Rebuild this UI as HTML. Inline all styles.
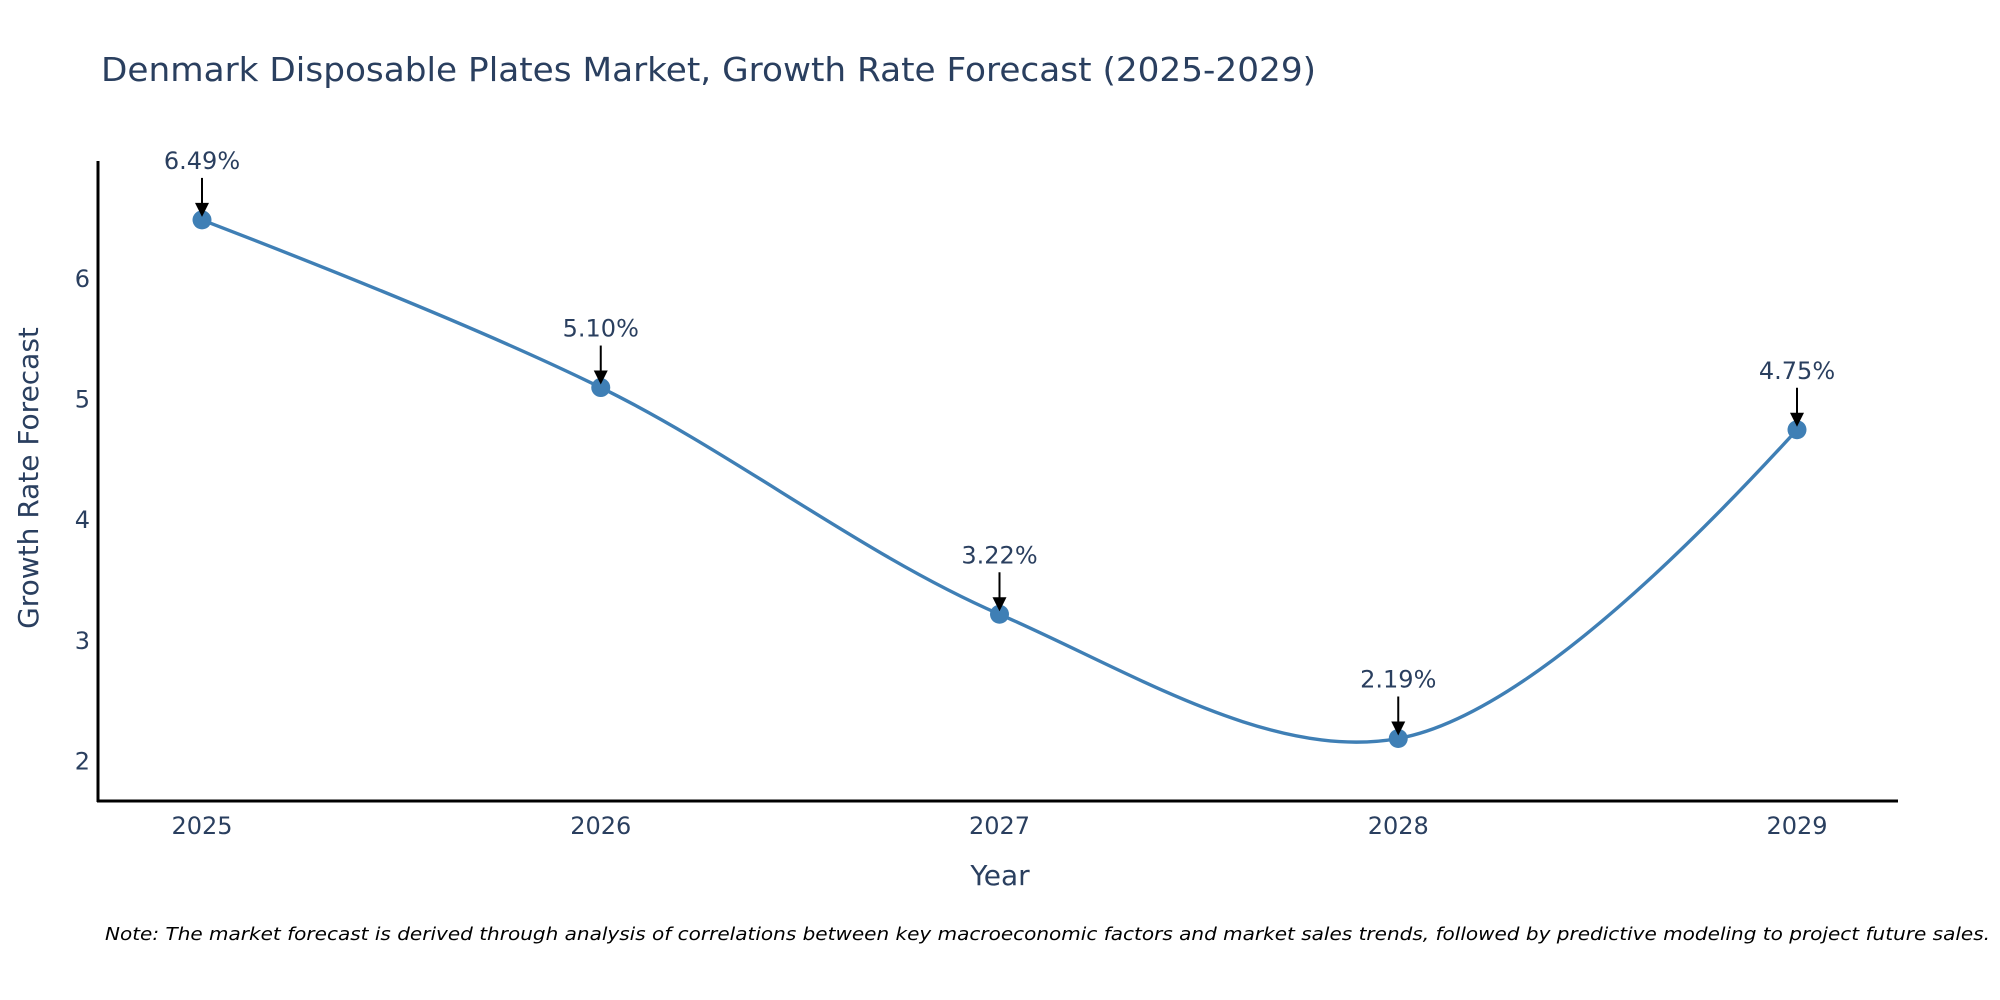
<!DOCTYPE html>
<html><head><meta charset="utf-8"><style>
html,body{margin:0;padding:0;background:#fff;}
svg{display:block;font-family:"DejaVu Sans","Liberation Sans",sans-serif;}
</style></head><body>
<svg id="chart" width="2000" height="1000" viewBox="0 0 2000 1000">
<text x="101" y="81" font-size="33" fill="#2a3f5f" textLength="1215" lengthAdjust="spacingAndGlyphs">Denmark Disposable Plates Market, Growth Rate Forecast (2025-2029)</text>
<g id="yticks"></g>
<g id="xticks"></g>
<line x1="98" y1="161" x2="98" y2="802" stroke="#000" stroke-width="3"/>
<line x1="97" y1="801" x2="1898" y2="801" stroke="#000" stroke-width="3"/>
<text transform="translate(38,478) rotate(-90)" text-anchor="middle" font-size="28" fill="#2a3f5f">Growth Rate Forecast</text>
<text x="1000" y="885" text-anchor="middle" font-size="28" fill="#2a3f5f">Year</text>
<g id="plot"></g>
<text x="105" y="940" font-size="18" font-style="italic" fill="#000" textLength="1885" lengthAdjust="spacingAndGlyphs">Note: The market forecast is derived through analysis of correlations between key macroeconomic factors and market sales trends, followed by predictive modeling to project future sales.</text>
</svg>
<script>
const categories = [2025, 2026, 2027, 2028, 2029];
const values = [6.49, 5.10, 3.22, 2.19, 4.75];
const labels = ["6.49%", "5.10%", "3.22%", "2.19%", "4.75%"];
const yTicks = [2, 3, 4, 5, 6];

const NS = "http://www.w3.org/2000/svg";
function xs(c){ return 202 + (c - 2025) * 398.75; }
function ys(v){ return 279 - (v - 6) * 120.6; }
function mk(tag, attrs, parent){ const e=document.createElementNS(NS,tag); for(const k in attrs) e.setAttribute(k,attrs[k]); parent.appendChild(e); return e; }

const yt=document.getElementById('yticks');
yTicks.forEach(t=>{
  const e=mk('text',{x:90,y:ys(t)+8,'text-anchor':'end','font-size':24,fill:'#2a3f5f'},yt);
  
  
  e.textContent=t;
});
const xt=document.getElementById('xticks');
categories.forEach(c=>{
  const e=mk('text',{x:xs(c),y:834,'text-anchor':'middle','font-size':24,fill:'#2a3f5f'},xt);
  
  
  e.textContent=c;
});

const pts=categories.map((c,i)=>[xs(c),ys(values[i])]);
function tangent(p,t,n,s){
  const d1x=p[0]-t[0],d1y=p[1]-t[1],d2x=n[0]-t[0],d2y=n[1]-t[1];
  const d1a=Math.pow(d1x*d1x+d1y*d1y,0.25),d2a=Math.pow(d2x*d2x+d2y*d2y,0.25);
  const nx=(d2a*d2a*d1x-d1a*d1a*d2x)*s,ny=(d2a*d2a*d1y-d1a*d1a*d2y)*s;
  const den1=3*d2a*(d1a+d2a),den2=3*d1a*(d1a+d2a);
  return [[t[0]+nx/den1,t[1]+ny/den1],[t[0]-nx/den2,t[1]-ny/den2]];
}
const tg=[];
for(let i=1;i<pts.length-1;i++) tg.push(tangent(pts[i-1],pts[i],pts[i+1],1));
let d='M'+pts[0]+' Q'+tg[0][0]+' '+pts[1];
for(let i=2;i<pts.length-1;i++) d+=' C'+tg[i-2][1]+' '+tg[i-1][0]+' '+pts[i];
d+=' Q'+tg[tg.length-1][1]+' '+pts[pts.length-1];
const plot=document.getElementById('plot');
const line=mk('path',{d:d,fill:'none',stroke:'#3f7fb5','stroke-width':3.4},plot);



pts.forEach((p,i)=>{
  const c=mk('circle',{cx:p[0],cy:p[1],r:9.5,fill:'#3f7fb5'},plot);
  
  
  const a=mk('line',{x1:p[0],y1:p[1]-42,x2:p[0],y2:p[1]-14,stroke:'#000','stroke-width':2},plot);
  
  
  const h=mk('path',{d:`M${p[0]-7},${p[1]-17} L${p[0]+7},${p[1]-17} L${p[0]},${p[1]-3} Z`,fill:'#000'},plot);
  
  
  const t=mk('text',{x:p[0],y:p[1]-51,'text-anchor':'middle','font-size':24,fill:'#2a3f5f'},plot);
  
  
  t.textContent=labels[i];
});
</script>
</body></html>
